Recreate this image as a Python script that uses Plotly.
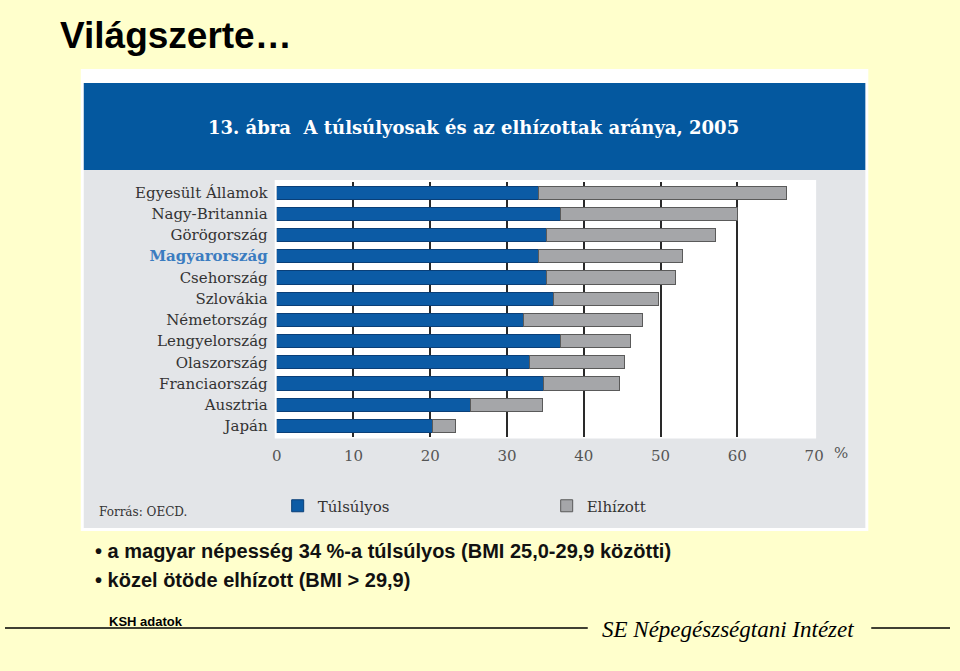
import plotly.graph_objects as go

# ---- data ----
countries = ["Egyesült Államok", "Nagy-Britannia", "Görögország", "Magyarország",
             "Csehország", "Szlovákia", "Németország", "Lengyelország",
             "Olaszország", "Franciaország", "Ausztria", "Japán"]
overweight = [34.1, 37.0, 35.2, 34.1, 35.1, 36.0, 32.2, 37.0, 32.9, 34.8, 25.2, 20.3]
obese = [32.3, 23.0, 21.9, 18.8, 16.9, 13.7, 15.5, 9.1, 12.4, 9.8, 9.4, 3.0]
x_ticks = [0, 10, 20, 30, 40, 50, 60, 70]
grid_ticks = [10, 20, 30, 40, 50, 60]
series_names = ["Túlsúlyos", "Elhízott"]
highlight = "Magyarország"

W, H = 960, 671
def px(x):
    return x / W
def py(y):
    return (H - y) / H

SERIF = "DejaVu Serif"
SANS = "Liberation Sans"
BLUE = "#0c5ba5"
GREY = "#a5a6a9"

ticktext = [
    f"<b><span style='color:#3b7cc0'>{c}</span></b>" if c == highlight else c
    for c in countries
]

fig = go.Figure()
fig.add_trace(go.Bar(
    y=countries, x=overweight, orientation="h", name=series_names[0],
    marker=dict(color=BLUE, line=dict(color="#0a3f78", width=1)),
))
fig.add_trace(go.Bar(
    y=countries, x=obese, orientation="h", name=series_names[1],
    marker=dict(color=GREY, line=dict(color="#5a5a5a", width=1)),
))
# invisible trace on a second x axis to carry the grid lines
fig.add_trace(go.Scatter(x=[None], y=[None], xaxis="x2", showlegend=False,
                         hoverinfo="skip"))

shapes = [
    dict(type="rect", xref="paper", yref="paper", x0=px(77), x1=px(877),
         y0=py(531), y1=py(69), fillcolor="#ffffff", line=dict(width=0), layer="below"),
    dict(type="rect", xref="paper", yref="paper", x0=px(80), x1=px(874),
         y0=py(528), y1=py(170), fillcolor="#e3e5e8", line=dict(width=0), layer="below"),
    dict(type="rect", xref="paper", yref="paper", x0=px(80), x1=px(874),
         y0=py(170), y1=py(83), fillcolor="#04589f", line=dict(width=0), layer="below"),
    dict(type="rect", xref="paper", yref="paper", x0=px(274), x1=px(824),
         y0=py(438.5), y1=py(180), fillcolor="#ffffff", line=dict(width=0), layer="below"),
    dict(type="line", xref="paper", yref="paper", x0=0, x1=px(592),
         y0=py(628), y1=py(628), line=dict(color="#000000", width=1.5)),
    dict(type="line", xref="paper", yref="paper", x0=px(880), x1=1,
         y0=py(628), y1=py(628), line=dict(color="#000000", width=1.5)),
]

annotations = [
    dict(text="<b>Világszerte…</b>", xref="paper", yref="paper", x=px(54), y=py(36),
         xanchor="left", yanchor="middle", showarrow=False,
         font=dict(family=SANS, size=37, color="#000000")),
    dict(text="<b>13. ábra  A túlsúlyosak és az elhízottak aránya, 2005</b>",
         xref="paper", yref="paper", x=px(476), y=py(127), xanchor="center",
         yanchor="middle", showarrow=False,
         font=dict(family=SERIF, size=18, color="#ffffff")),
    dict(text="%", xref="x", yref="paper", x=70, y=py(453), xanchor="left",
         yanchor="middle", xshift=18, showarrow=False,
         font=dict(family=SERIF, size=15, color="#555555")),
    dict(text="Forrás: OECD.", xref="paper", yref="paper", x=px(93), y=py(512),
         xanchor="left", yanchor="middle", showarrow=False,
         font=dict(family=SERIF, size=12, color="#333333")),
    dict(text="<b>• a magyar népesség 34 %-a túlsúlyos (BMI 25,0-29,9 közötti)</b>",
         xref="paper", yref="paper", x=px(89), y=py(551), xanchor="left",
         yanchor="middle", showarrow=False,
         font=dict(family=SANS, size=20, color="#111111")),
    dict(text="<b>• közel ötöde elhízott (BMI > 29,9)</b>",
         xref="paper", yref="paper", x=px(89), y=py(580), xanchor="left",
         yanchor="middle", showarrow=False,
         font=dict(family=SANS, size=20, color="#111111")),
    dict(text="<b>KSH adatok</b>", xref="paper", yref="paper", x=px(104), y=py(621),
         xanchor="left", yanchor="middle", showarrow=False,
         font=dict(family=SANS, size=13, color="#000000")),
    dict(text="<i>SE Népegészségtani Intézet</i>", xref="paper", yref="paper",
         x=px(734), y=py(629), xanchor="center", yanchor="middle", showarrow=False,
         font=dict(family="Liberation Serif", size=23, color="#000000")),
]

fig.update_layout(
    height=H,
    autosize=True,
    margin=dict(l=0, r=0, t=0, b=0),
    paper_bgcolor="#ffffcc",
    plot_bgcolor="#dcdee1",
    barmode="stack",
    bargap=0.38,
    showlegend=True,
    legend=dict(orientation="h", x=px(277), y=py(506), xanchor="left",
                yanchor="middle", bgcolor="rgba(0,0,0,0)", traceorder="normal",
                font=dict(family=SERIF, size=15, color="#333333"),
                entrywidth=224, entrywidthmode="pixels", itemwidth=30),
    xaxis=dict(domain=[px(276), px(822)], range=[0, 70], tickvals=x_ticks,
               showgrid=False, zeroline=False, showline=False, ticks="",
               tickfont=dict(family=SERIF, size=15, color="#555555"),
               ticklabelstandoff=8, fixedrange=True),
    xaxis2=dict(overlaying="x", matches="x", range=[0, 70], tickvals=grid_ticks,
                showticklabels=False, showgrid=True, gridcolor="#2a2a2a",
                gridwidth=2, zeroline=False, showline=False, ticks=""),
    yaxis=dict(domain=[py(436.5), py(182)], type="category",
               categoryorder="array", categoryarray=countries,
               autorange="reversed", tickvals=countries, ticktext=ticktext,
               showgrid=False, zeroline=False, showline=False, ticks="",
               tickfont=dict(family=SERIF, size=15, color="#333333"),
               ticklabelstandoff=8),
    shapes=shapes,
    annotations=annotations,
)

fig.write_html(
    "out.html",
    config={"displayModeBar": False},
    default_width="100%",
    post_script=(
        "document.body.style.margin='0';"
        "document.body.style.background='#ffffcc';"
        "document.body.style.overflow='hidden';"
        "document.documentElement.style.overflow='hidden';"
        "window.dispatchEvent(new Event('resize'));"
    ),
)
